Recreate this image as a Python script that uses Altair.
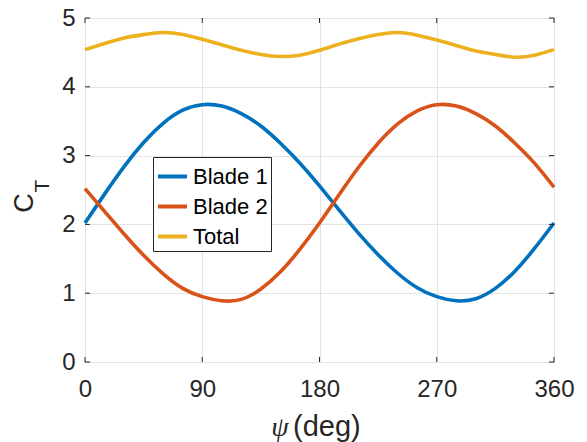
import altair as alt
import pandas as pd

# Azimuth angle (deg) and thrust coefficient per blade and combined
psi = [0, 15, 30, 45, 60, 75, 90, 105, 120, 135, 150, 165, 180,
       195, 210, 225, 240, 255, 270, 285, 300, 315, 330, 345, 360]
blade1 = [2.02, 2.44, 2.84, 3.19, 3.47, 3.66, 3.74, 3.72, 3.61, 3.43, 3.18, 2.89, 2.56,
          2.21, 1.87, 1.56, 1.29, 1.08, 0.95, 0.89, 0.92, 1.07, 1.32, 1.65, 2.02]
blade2 = [2.52, 2.19, 1.86, 1.55, 1.28, 1.07, 0.95, 0.89, 0.91, 1.06, 1.31, 1.64, 2.02,
          2.43, 2.83, 3.18, 3.46, 3.65, 3.74, 3.72, 3.61, 3.43, 3.18, 2.89, 2.54]
total = [4.54, 4.63, 4.71, 4.76, 4.79, 4.76, 4.69, 4.61, 4.53, 4.47, 4.44, 4.46, 4.53,
         4.62, 4.70, 4.76, 4.79, 4.75, 4.68, 4.60, 4.52, 4.47, 4.43, 4.46, 4.54]

series_names = ["Blade 1", "Blade 2", "Total"]
series_colors = ["#0072BD", "#D95319", "#EDB120"]
x_ticks = [0, 90, 180, 270, 360]
y_ticks = [0, 1, 2, 3, 4, 5]

W, H = 469, 344
TICK = 5
AXIS_COLOR = "#262626"
FONT = "Liberation Sans"

rows = []
for name, vals in zip(series_names, [blade1, blade2, total]):
    for p, v in zip(psi, vals):
        rows.append({"psi": p, "ct": v, "series": name})
df = pd.DataFrame(rows)

x_scale = alt.Scale(domain=[0, 360], nice=False, zero=False)
y_scale = alt.Scale(domain=[0, 5], nice=False)

axis_common = dict(title=None, ticks=False, domain=False, labelFontSize=24,
                   labelColor=AXIS_COLOR, labelFont=FONT, grid=True,
                   gridColor="#e3e3e3", labelFlush=False)
x_axis = alt.Axis(values=x_ticks, labelPadding=15, **axis_common)
y_axis = alt.Axis(values=y_ticks, labelPadding=10, **axis_common)

lines = alt.Chart(df).mark_line(strokeWidth=3.6, interpolate="natural").encode(
    x=alt.X("psi:Q", scale=x_scale, axis=x_axis),
    y=alt.Y("ct:Q", scale=y_scale, axis=y_axis),
    color=alt.Color("series:N",
                    scale=alt.Scale(domain=series_names, range=series_colors),
                    legend=alt.Legend(title=None, orient="none", legendX=68, legendY=139,
                                      symbolType="stroke", symbolSize=841,
                                      symbolStrokeWidth=4, labelFontSize=22,
                                      labelFont=FONT, labelColor="#000000",
                                      labelOffset=4, rowPadding=2, padding=3,
                                      strokeColor=AXIS_COLOR, fillColor="white",
                                      cornerRadius=0)),
)

# Inward tick marks on all four sides of the box
xt = pd.DataFrame({"psi": x_ticks})
yt = pd.DataFrame({"ct": y_ticks})
tick_style = dict(color=AXIS_COLOR, strokeWidth=1)
x_bottom = alt.Chart(xt).mark_rule(**tick_style).encode(
    x=alt.X("psi:Q", scale=x_scale, axis=x_axis), y=alt.value(H), y2=alt.value(H - TICK))
x_top = alt.Chart(xt).mark_rule(**tick_style).encode(
    x=alt.X("psi:Q", scale=x_scale, axis=x_axis), y=alt.value(0), y2=alt.value(TICK))
y_left = alt.Chart(yt).mark_rule(**tick_style).encode(
    y=alt.Y("ct:Q", scale=y_scale, axis=y_axis), x=alt.value(0), x2=alt.value(TICK))
y_right = alt.Chart(yt).mark_rule(**tick_style).encode(
    y=alt.Y("ct:Q", scale=y_scale, axis=y_axis), x=alt.value(W - TICK), x2=alt.value(W))

# Axis titles: psi in italic serif, C with subscript T
title_df = pd.DataFrame({"a": [0]})
psi_title = alt.Chart(title_df).mark_text(
    text="ψ", font="Liberation Serif", fontStyle="italic", fontSize=28,
    color=AXIS_COLOR, align="center", baseline="alphabetic").encode(
    x=alt.value(195), y=alt.value(418))
deg_title = alt.Chart(title_df).mark_text(
    text="(deg)", font=FONT, fontSize=29, color=AXIS_COLOR,
    align="left", baseline="alphabetic").encode(
    x=alt.value(208), y=alt.value(418))
c_title = alt.Chart(title_df).mark_text(
    text="C", font=FONT, fontSize=27, color=AXIS_COLOR, angle=270,
    align="center", baseline="middle").encode(
    x=alt.value(-60), y=alt.value(185))
t_sub = alt.Chart(title_df).mark_text(
    text="T", font=FONT, fontSize=21, color=AXIS_COLOR, angle=270,
    align="center", baseline="middle").encode(
    x=alt.value(-42), y=alt.value(168))

chart = alt.layer(
    lines, x_bottom, x_top, y_left, y_right, psi_title, deg_title, c_title, t_sub
).properties(
    width=W, height=H,
    autosize=alt.AutoSizeParams(type="none"),
    padding={"left": 85, "top": 18, "right": 33, "bottom": 80},
).configure_view(
    stroke=AXIS_COLOR, strokeWidth=1
)

chart.save("out.html", embed_options={"renderer": "svg", "actions": False})
